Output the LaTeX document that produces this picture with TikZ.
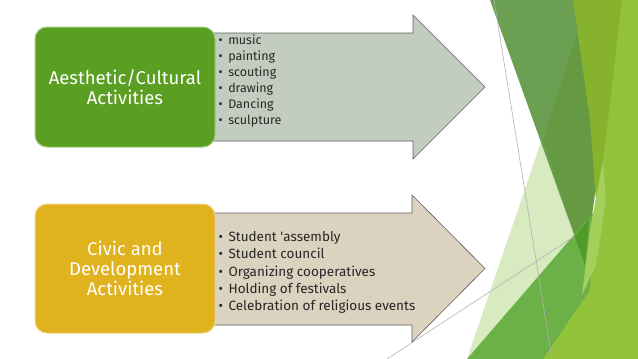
\documentclass[tikz,border=0pt]{standalone}
\usepackage{fontspec}
\setsansfont{Fira Sans}
\usetikzlibrary{positioning, calc}
\definecolor{cgreen}{HTML}{5A9E22}
\definecolor{cgold}{HTML}{E0B21E}
\definecolor{csage}{HTML}{C3CDBF}
\definecolor{csand}{HTML}{DBD2BF}
\definecolor{cedge}{HTML}{5F5F5F}
\definecolor{cink}{HTML}{262626}
% backdrop facets
\definecolor{cpale}{HTML}{D8EAC0}
\definecolor{cmoss}{HTML}{6B9F51}
\definecolor{cmossdk}{HTML}{659A43}
\definecolor{cleaf}{HTML}{6CB048}
\definecolor{cdeep}{HTML}{4F9A28}
\definecolor{colive}{HTML}{86B22D}
\definecolor{clime}{HTML}{91C23A}
\definecolor{climelt}{HTML}{A3CF5A}
\tikzset{
  every picture/.style={font=\sffamily},
  catbox/.style={fill=#1, draw=#1!55!white, line width=1pt, rounded corners=12pt, minimum width=180pt,
    align=center, text=white, font=\sffamily\fontsize{18.5}{19.8}\selectfont},
  bigarrow/.style={fill=#1, draw=cedge, line width=0.6pt},
  items/.style={align=left, anchor=west, text=cink, inner sep=2pt},
  facet/.style={fill=#1, draw=none},
  rule/.style={draw=black!30, line width=0.6pt},
}
\newcommand{\bul}{\textbullet\hspace{5.5pt}}

\begin{document}
\begin{tikzpicture}[x=1pt, y=-1pt]
  \useasboundingbox (0,0) rectangle (638,359);
  % facets on the right
  \fill[facet=cpale] (552,110) -- (467,359) -- (600,359) -- cycle;
  \fill[facet=cmoss] (490,0) -- (610,0) -- (585,265) -- cycle;
  \fill[facet=cmossdk] (580,25) -- (543,140) -- (585,265) -- (597,180) -- cycle;
  \fill[facet=cleaf] (467,359) -- (605,199) -- (605,359) -- cycle;
  \fill[facet=cdeep] (574.6,235.9) -- (589.3,218.9) -- (585,265) -- cycle;
  \fill[facet=colive] (573,0) -- (638,0) -- (638,220) -- (597,215) -- (590,120) -- cycle;
  \fill[facet=clime] (622,0) -- (638,0) -- (638,359) -- (543,359) -- (590,290) -- (598,200) -- (608,120) -- cycle;
  \fill[facet=climelt] (603,160) -- (590,230) -- (582,295) -- (596,265) -- (606,200) -- cycle;
  \draw[rule] (494,0) -- (552,359);
  \draw[rule] (387,359) -- (575,236);
  % the two rows
  \draw[bigarrow=csage] (200,33) -- (413,33) -- (413,15) -- (485,87) -- (413,159) -- (413,141) -- (200,141) -- cycle;
  \draw[bigarrow=csand] (200,213) -- (412,213) -- (412,195) -- (485,268.5) -- (412,342) -- (412,325) -- (200,325) -- cycle;
  \node[catbox=cgreen, minimum height=120pt] (aes) at (125,87) {Aesthetic/Cultural\\Activities};
  \node[catbox=cgold, minimum height=129pt] (civ) at (125,268.5) {Civic and\\Development\\Activities};
  \node[items, right=1pt of aes.east, yshift=6pt, font=\sffamily\fontsize{12.5}{16}\selectfont] (aeslist)
    {\bul music\\\bul painting\\\bul scouting\\\bul drawing\\\bul Dancing\\\bul sculpture};
  \node[items, right=1pt of civ.east, yshift=-4pt, font=\sffamily\fontsize{13.5}{17.2}\selectfont] (civlist)
    {\bul Student \textquotesingle assembly\\\bul Student council\\\bul Organizing cooperatives\\\bul Holding of festivals\\\bul Celebration of religious events};
\end{tikzpicture}
\end{document}
